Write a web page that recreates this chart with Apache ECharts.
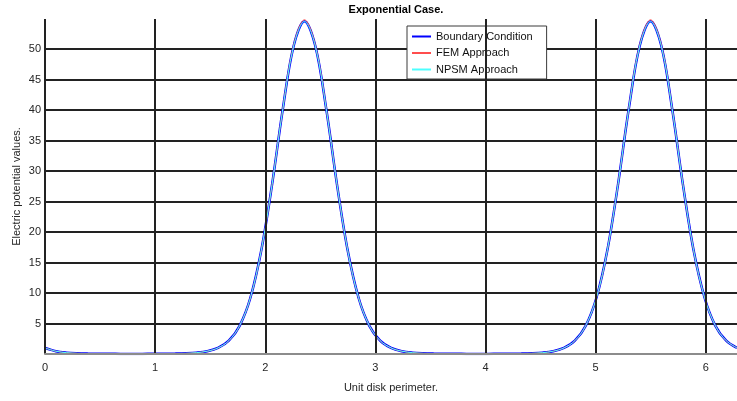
<!DOCTYPE html>
<html>
<head>
<meta charset="utf-8">
<script src="https://cdn.jsdelivr.net/npm/echarts@6/dist/echarts.min.js"></script>
<style>
html,body{margin:0;padding:0;background:#fff;}
#chart{width:737px;height:401px;}
</style>
</head>
<body>
<div id="chart"></div>
<script>
// Perimeter angle samples (radians)
const theta = [0,0.098,0.196,0.295,0.393,0.491,0.589,0.687,0.785,0.884,0.982,1.080,1.178,1.276,1.374,1.473,1.571,
1.669,1.767,1.865,1.963,2.062,2.160,2.258,2.356,2.454,2.553,2.651,2.749,2.847,2.945,3.043,3.142,
3.240,3.338,3.436,3.534,3.632,3.731,3.829,3.927,4.025,4.123,4.221,4.320,4.418,4.516,4.614,4.712,
4.811,4.909,5.007,5.105,5.203,5.301,5.400,5.498,5.596,5.694,5.792,5.890,5.989,6.087,6.185,6.283];

const boundaryValues = [1.000,0.458,0.216,0.108,0.059,0.036,0.025,0.020,0.018,0.020,0.025,0.036,0.059,0.108,0.216,0.458,1.000,
2.182,4.622,9.228,16.919,27.823,40.266,50.560,54.598,50.560,40.266,27.823,16.919,9.228,4.622,2.182,1.000,
0.458,0.216,0.108,0.059,0.036,0.025,0.020,0.018,0.020,0.025,0.036,0.059,0.108,0.216,0.458,1.000,
2.182,4.622,9.228,16.919,27.823,40.266,50.560,54.598,50.560,40.266,27.823,16.919,9.228,4.622,2.182,1.000];

const femValues = [1.000,0.458,0.216,0.108,0.059,0.036,0.025,0.020,0.018,0.020,0.025,0.036,0.059,0.108,0.216,0.458,1.000,
2.182,4.622,9.228,16.919,27.850,40.320,50.700,54.820,50.700,40.320,27.850,16.919,9.228,4.622,2.182,1.000,
0.458,0.216,0.108,0.059,0.036,0.025,0.020,0.018,0.020,0.025,0.036,0.059,0.108,0.216,0.458,1.000,
2.182,4.622,9.228,16.919,27.850,40.320,50.700,54.820,50.700,40.320,27.850,16.919,9.228,4.622,2.182,1.000];

const npsmValues = [1.000,0.458,0.216,0.108,0.059,0.036,0.025,0.020,0.018,0.020,0.025,0.036,0.059,0.108,0.216,0.458,1.000,
2.182,4.622,9.228,16.919,27.823,40.266,50.540,54.560,50.540,40.266,27.823,16.919,9.228,4.622,2.182,1.000,
0.458,0.216,0.108,0.059,0.036,0.025,0.020,0.018,0.020,0.025,0.036,0.059,0.108,0.216,0.458,1.000,
2.182,4.622,9.228,16.919,27.823,40.266,50.540,54.560,50.540,40.266,27.823,16.919,9.228,4.622,2.182,1.000];

const seriesNames = ['Boundary Condition','FEM Approach','NPSM Approach'];
const seriesColors = ['#0000ff','#ff4d4d','#4dffff'];
const xTicks = [0,1,2,3,4,5,6];
const yTicks = [5,10,15,20,25,30,35,40,45,50];

function pairs(vals){ return theta.map((t,i)=>[t, vals[i]]); }

const FONT = 'Liberation Sans, Arial, Helvetica, sans-serif';
const chart = echarts.init(document.getElementById('chart'), null, {renderer:'canvas'});
chart.setOption({
  backgroundColor:'#ffffff',
  animation:false,
  title:{
    text:'Exponential Case.',
    left:391, top:-1, textAlign:'center',
    textStyle:{fontFamily:FONT, fontSize:11, fontWeight:'bold', color:'#000'}
  },
  legend:{
    orient:'vertical',
    left:407, top:26,
    padding:[5,14,4,5],
    itemGap:5.5,
    itemWidth:19, itemHeight:2,
    backgroundColor:'#fff',
    borderColor:'#3a3a3a', borderWidth:1, borderRadius:0,
    textStyle:{fontFamily:FONT, fontSize:11, color:'#111'},
    data:seriesNames.map((n,i)=>({name:n, icon:'rect', itemStyle:{color:seriesColors[i]}}))
  },
  grid:{left:45, right:0, top:19, bottom:47, containLabel:false, outerBoundsMode:'none'},
  xAxis:{
    type:'value', min:0, max:6.2832, interval:1,
    name:'Unit disk perimeter.', nameLocation:'middle', nameGap:28,
    nameTextStyle:{fontFamily:FONT, fontSize:11, color:'#262626'},
    axisLine:{show:true, onZero:false, lineStyle:{color:'#8c8c8c', width:2}},
    axisTick:{show:false},
    axisLabel:{fontFamily:FONT, fontSize:11, color:'#262626', margin:8, showMaxLabel:false,
      formatter:v=> xTicks.indexOf(Math.round(v*1000)/1000)>=0 ? String(v) : ''},
    splitLine:{show:true, showMaxLine:false, lineStyle:{color:'#222', width:2}},
    z:5
  },
  yAxis:{
    type:'value', min:0, max:54.95, interval:5,
    name:'Electric potential values.', nameLocation:'middle', nameGap:23, nameMoveOverlap:false,
    nameTextStyle:{fontFamily:FONT, fontSize:11, color:'#262626'},
    axisLine:{show:false},
    axisTick:{show:false},
    axisLabel:{fontFamily:FONT, fontSize:11, color:'#262626', margin:4, showMinLabel:false, showMaxLabel:false,
      formatter:v=> yTicks.indexOf(v)>=0 ? String(v) : ''},
    splitLine:{show:true, showMinLine:false, showMaxLine:false, lineStyle:{color:'#222', width:2}}
  },
  series:[
    {name:seriesNames[0], type:'line', data:pairs(boundaryValues), symbol:'none', smooth:0.35,
     lineStyle:{color:seriesColors[0], width:2.5}, itemStyle:{color:seriesColors[0]}, z:2},
    {name:seriesNames[1], type:'line', data:pairs(femValues), symbol:'none', smooth:0.35,
     lineStyle:{color:seriesColors[1], width:1}, itemStyle:{color:seriesColors[1]}, z:3},
    {name:seriesNames[2], type:'line', data:pairs(npsmValues), symbol:'none', smooth:0.35,
     lineStyle:{color:seriesColors[2], width:1}, itemStyle:{color:seriesColors[2]}, z:4}
  ]
});
</script>
</body>
</html>
